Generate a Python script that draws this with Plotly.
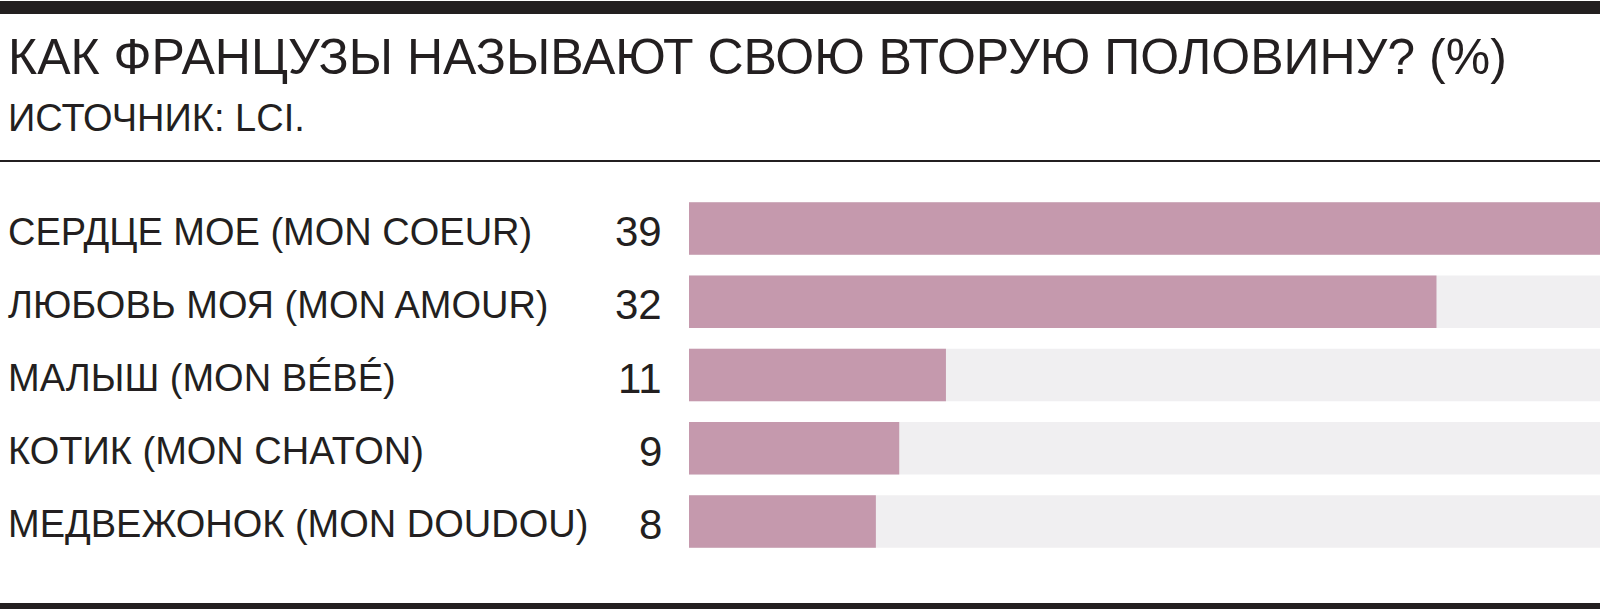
import plotly.graph_objects as go

W, H = 1600, 609

title = "КАК ФРАНЦУЗЫ НАЗЫВАЮТ СВОЮ ВТОРУЮ ПОЛОВИНУ? (%)"
subtitle = "ИСТОЧНИК: LCI."
categories = [
    "СЕРДЦЕ МОЕ (MON COEUR)",
    "ЛЮБОВЬ МОЯ (MON AMOUR)",
    "МАЛЫШ (MON BÉBÉ)",
    "КОТИК (MON CHATON)",
    "МЕДВЕЖОНОК (MON DOUDOU)",
]
values = [39, 32, 11, 9, 8]

TEXT = "#231f20"
BAR = "#c599ad"
BG = "#f0eff1"
FONT = "Liberation Sans"


def py(p):
    return 1 - p / H


def px(p):
    return p / W


vmax = max(values)
fig = go.Figure()
fig.add_trace(go.Bar(
    y=categories, x=[vmax] * len(categories), orientation="h",
    marker=dict(color=BG, line=dict(width=0)), hoverinfo="skip", showlegend=False,
))
fig.add_trace(go.Bar(
    y=categories, x=values, orientation="h",
    marker=dict(color=BAR, line=dict(width=0)), showlegend=False,
))

annotations = [
    dict(text=title, x=px(6), y=py(57), xref="paper", yref="paper", xanchor="left",
         yanchor="middle", showarrow=False, font=dict(family=FONT, size=50, color=TEXT)),
    dict(text=subtitle, x=px(6), y=py(118), xref="paper", yref="paper", xanchor="left",
         yanchor="middle", showarrow=False, font=dict(family=FONT, size=38, color=TEXT)),
]
for c, v in zip(categories, values):
    annotations.append(dict(text=c, x=px(6), y=c, xref="paper", yref="y", xanchor="left",
                            yanchor="middle", yshift=-3, showarrow=False,
                            font=dict(family=FONT, size=38, color=TEXT)))
    annotations.append(dict(text=str(v), x=px(664), y=c, xref="paper", yref="y", xanchor="right",
                            yanchor="middle", yshift=-3, showarrow=False,
                            font=dict(family=FONT, size=42, color=TEXT)))

shapes = [
    dict(type="rect", xref="paper", yref="paper", x0=0, x1=1, y0=py(14), y1=py(1),
         fillcolor=TEXT, line=dict(width=0)),
    dict(type="rect", xref="paper", yref="paper", x0=0, x1=1, y0=py(162), y1=py(160),
         fillcolor=TEXT, line=dict(width=0)),
    dict(type="rect", xref="paper", yref="paper", x0=0, x1=1, y0=py(609), y1=py(603),
         fillcolor=TEXT, line=dict(width=0)),
]

fig.update_layout(
    width=W, height=H,
    margin=dict(l=0, r=0, t=0, b=0),
    paper_bgcolor="white", plot_bgcolor="white",
    barmode="overlay", bargap=0.283,
    xaxis=dict(domain=[px(689), 1], range=[0, vmax], visible=False, fixedrange=True),
    yaxis=dict(domain=[py(558), py(192)], autorange="reversed", visible=False,
               categoryorder="array", categoryarray=categories, fixedrange=True),
    annotations=annotations, shapes=shapes,
)

fig.write_html("out.html", config={"displayModeBar": False})
